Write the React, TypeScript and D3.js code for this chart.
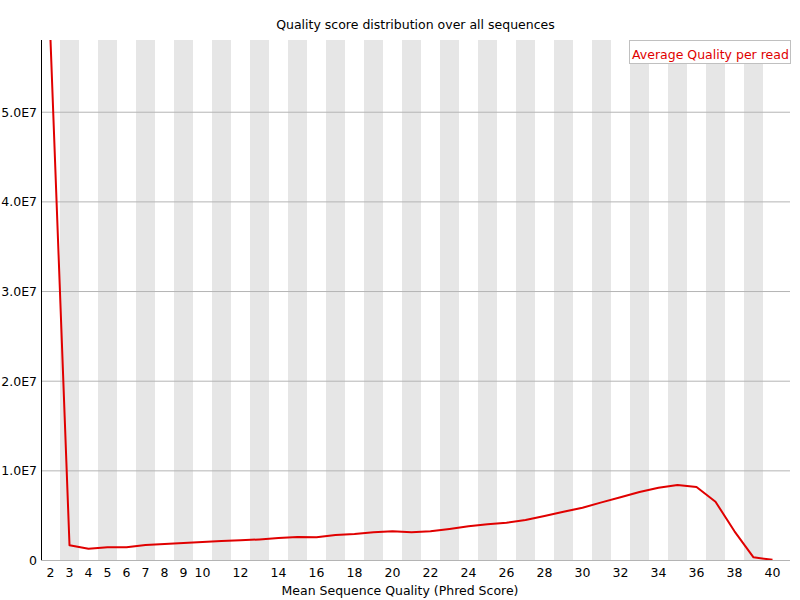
import { useRef, useEffect } from "react";
import * as d3 from "d3";

// Mean Phred score bins and read counts per bin
const qualities = [
  2, 3, 4, 5, 6, 7, 8, 9, 10, 11, 12, 13, 14, 15, 16, 17, 18, 19, 20, 21,
  22, 23, 24, 25, 26, 27, 28, 29, 30, 31, 32, 33, 34, 35, 36, 37, 38, 39, 40,
];
const readCounts = [
  5.8e7, 1.64e6, 1.26e6, 1.41e6, 1.41e6, 1.67e6, 1.78e6, 1.9e6, 2.0e6, 2.12e6,
  2.19e6, 2.3e6, 2.45e6, 2.57e6, 2.53e6, 2.79e6, 2.9e6, 3.09e6, 3.2e6, 3.1e6,
  3.2e6, 3.46e6, 3.76e6, 3.98e6, 4.16e6, 4.46e6, 4.91e6, 5.39e6, 5.83e6, 6.43e6,
  6.99e6, 7.58e6, 8.06e6, 8.36e6, 8.14e6, 6.5e6, 3.2e6, 0.3e6, 0.02e6,
];
const xTickLabels = [
  2, 3, 4, 5, 6, 7, 8, 9, 10, 12, 14, 16, 18, 20, 22, 24, 26, 28, 30, 32, 34,
  36, 38, 40,
];
const yTicks = [0, 1e7, 2e7, 3e7, 4e7, 5e7];

const title = "Quality score distribution over all sequences";
const xTitle = "Mean Sequence Quality (Phred Score)";
const legendLabel = "Average Quality per read";

export default function App() {
  const svgRef = useRef<SVGSVGElement>(null);

  useEffect(() => {
    if (!svgRef.current) return;
    const svg = d3.select(svgRef.current);
    svg.selectAll("*").remove();

    const width = 800;
    const height = 600;
    const left = 41;
    const top = 40;
    const bottom = 560;
    const right = 790;
    const binWidth = 19;
    const font = "'DejaVu Sans', sans-serif";
    const fontSize = "12.5px";

    const data = qualities.map((q, i) => ({ q, count: readCounts[i] }));

    const x = d3
      .scaleBand<number>()
      .domain(qualities)
      .range([left, left + binWidth * qualities.length]);
    const yMax = d3.max(readCounts) || 1;
    const y = d3.scaleLinear().domain([0, yMax]).range([bottom, top]);

    svg.append("rect").attr("width", width).attr("height", height).attr("fill", "#ffffff");

    // Alternating stripes on odd bins
    svg
      .append("g")
      .selectAll("rect")
      .data(qualities.filter((q) => q % 2 === 1))
      .join("rect")
      .attr("x", (d) => x(d)!)
      .attr("y", top)
      .attr("width", x.bandwidth())
      .attr("height", bottom - top)
      .attr("fill", "#e6e6e6");

    // Horizontal grid
    svg
      .append("g")
      .selectAll("line")
      .data(yTicks)
      .join("line")
      .attr("x1", left)
      .attr("x2", right)
      .attr("y1", (d) => y(d) + 0.5)
      .attr("y2", (d) => y(d) + 0.5)
      .attr("stroke", "#b4b4b4")
      .attr("stroke-width", 1);

    // Left axis line
    svg
      .append("line")
      .attr("x1", left + 0.5)
      .attr("x2", left + 0.5)
      .attr("y1", top)
      .attr("y2", bottom)
      .attr("stroke", "#000000");

    // Y labels
    svg
      .append("g")
      .selectAll("text")
      .data(yTicks)
      .join("text")
      .attr("x", 37)
      .attr("y", (d) => y(d) + 5)
      .attr("text-anchor", "end")
      .attr("font-family", font)
      .attr("font-size", fontSize)
      .attr("fill", "#000000")
      .text((d) => (d === 0 ? "0" : `${(d / 1e7).toFixed(1)}E7`));

    // X labels
    svg
      .append("g")
      .selectAll("text")
      .data(xTickLabels)
      .join("text")
      .attr("x", (d) => x(d)! + x.bandwidth() / 2)
      .attr("y", 577)
      .attr("text-anchor", "middle")
      .attr("font-family", font)
      .attr("font-size", fontSize)
      .attr("fill", "#000000")
      .text((d) => String(d));

    // Clip for the line
    svg
      .append("clipPath")
      .attr("id", "plot-clip")
      .append("rect")
      .attr("x", left)
      .attr("y", top)
      .attr("width", right - left)
      .attr("height", bottom - top);

    const line = d3
      .line<(typeof data)[0]>()
      .x((d) => x(d.q)! + x.bandwidth() / 2)
      .y((d) => y(d.count));

    svg
      .append("path")
      .datum(data)
      .attr("d", line)
      .attr("clip-path", "url(#plot-clip)")
      .attr("fill", "none")
      .attr("stroke", "#e00000")
      .attr("stroke-width", 2)
      .attr("stroke-linejoin", "round");

    // Legend
    svg
      .append("rect")
      .attr("x", 629.5)
      .attr("y", 40.5)
      .attr("width", 161)
      .attr("height", 23)
      .attr("fill", "#ffffff")
      .attr("stroke", "#c0c0c0");

    svg
      .append("text")
      .attr("x", 632)
      .attr("y", 59)
      .attr("font-family", font)
      .attr("font-size", fontSize)
      .attr("fill", "#e00000")
      .text(legendLabel);

    // Titles
    svg
      .append("text")
      .attr("x", (left + right) / 2)
      .attr("y", 29)
      .attr("text-anchor", "middle")
      .attr("font-family", font)
      .attr("font-size", fontSize)
      .attr("fill", "#000000")
      .text(title);

    svg
      .append("text")
      .attr("x", width / 2)
      .attr("y", 595)
      .attr("text-anchor", "middle")
      .attr("font-family", font)
      .attr("font-size", fontSize)
      .attr("fill", "#000000")
      .text(xTitle);
  }, []);

  return (
    <div style={{ position: "absolute", left: 0, top: 0, width: 800, height: 600 }}>
      <svg ref={svgRef} width={800} height={600} style={{ display: "block" }} />
    </div>
  );
}
